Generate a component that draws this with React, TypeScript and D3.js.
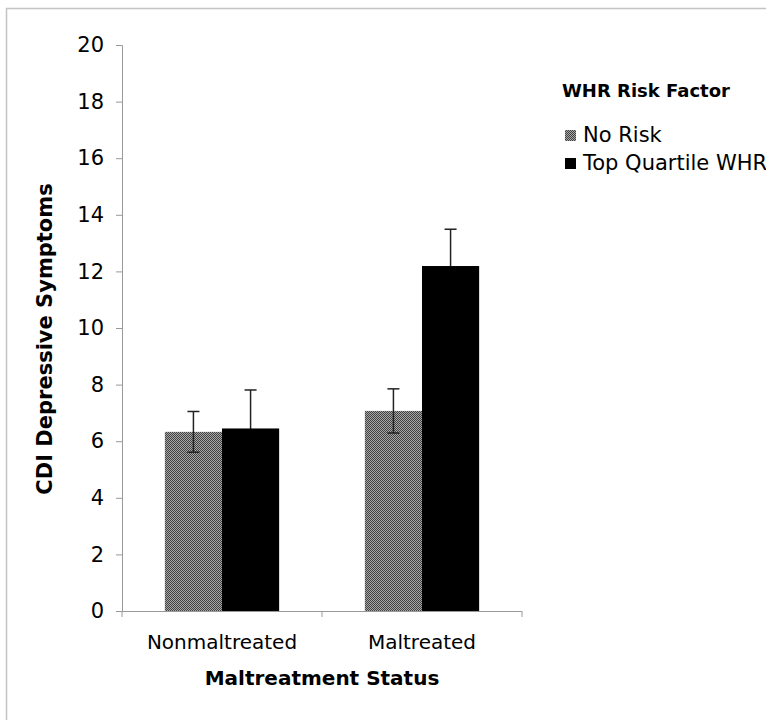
import * as d3 from 'd3';
import { useEffect, useRef } from 'react';

const categories = ['Nonmaltreated', 'Maltreated'];
const seriesNames = ['No Risk', 'Top Quartile WHR'];
const noRiskValues = [6.33, 7.07];
const noRiskErrors = [0.72, 0.78];
const topQuartileValues = [6.45, 12.19];
const topQuartileErrors = [1.36, 1.3];
const yTicks = [0, 2, 4, 6, 8, 10, 12, 14, 16, 18, 20];

function App() {
    const ref = useRef<SVGSVGElement>(null);

    useEffect(() => {
        const svg = d3.select(ref.current);
        svg.selectAll('*').remove();

        const font = 'DejaVu Sans, Verdana, sans-serif';
        const left = 122, right = 522, top = 45, bottom = 611;

        // dither pattern for the "No Risk" bars
        const defs = svg.append('defs');
        const pat = defs.append('pattern')
            .attr('id', 'dither')
            .attr('width', 2).attr('height', 2)
            .attr('patternUnits', 'userSpaceOnUse');
        pat.append('rect').attr('width', 2).attr('height', 2).attr('fill', '#a8a8a8');
        pat.append('rect').attr('width', 1).attr('height', 1).attr('fill', '#404040');
        pat.append('rect').attr('x', 1).attr('y', 1).attr('width', 1).attr('height', 1).attr('fill', '#404040');

        // outer frame
        svg.append('rect')
            .attr('x', 6.5).attr('y', 8.5)
            .attr('width', 800).attr('height', 800)
            .attr('fill', 'white')
            .attr('stroke', '#c4c4c4')
            .attr('stroke-width', 1.5);

        const x0 = d3.scaleBand().domain(categories).range([left, right]).paddingInner(0).paddingOuter(0);
        const x1 = d3.scaleBand().domain(seriesNames).range([0, x0.bandwidth()]).paddingInner(0).paddingOuter(0.75);
        const y = d3.scaleLinear().domain([0, 20]).range([bottom, top]);

        // y axis
        const yAxis = svg.append('g')
            .attr('transform', `translate(${left},0)`)
            .call(d3.axisLeft(y).tickValues(yTicks).tickSize(6).tickPadding(12));
        yAxis.select('.domain').attr('stroke', '#999');
        yAxis.selectAll('.tick line').attr('stroke', '#999');
        yAxis.selectAll('.tick text')
            .attr('font-family', font).attr('font-size', 21).attr('fill', '#000');

        // x axis
        const xAxis = svg.append('g')
            .attr('transform', `translate(0,${bottom})`)
            .call(d3.axisBottom(x0).tickSize(0).tickPadding(24));
        xAxis.select('.domain').attr('stroke', '#999').attr('d', `M${left},0.5H${right}`);
        xAxis.selectAll('.tick text')
            .attr('font-family', font).attr('font-size', 20).attr('fill', '#000');
        const xTickPos = [left, (left + right) / 2, right];
        xAxis.selectAll('.sep')
            .data(xTickPos)
            .join('line')
            .attr('x1', d => d).attr('x2', d => d)
            .attr('y1', 0).attr('y2', 6)
            .attr('stroke', '#999');

        const series = [
            { name: seriesNames[0], values: noRiskValues, errors: noRiskErrors, fill: 'url(#dither)' },
            { name: seriesNames[1], values: topQuartileValues, errors: topQuartileErrors, fill: '#000' },
        ];

        const drawBars = (s: typeof series[number]) => {
            svg.append('g').selectAll('rect')
                .data(categories)
                .join('rect')
                .attr('x', (c) => x0(c)! + x1(s.name)!)
                .attr('y', (c, i) => y(s.values[i]))
                .attr('width', x1.bandwidth())
                .attr('height', (c, i) => bottom - y(s.values[i]))
                .attr('fill', s.fill);
        };

        drawBars(series[0]);

        // error bars (black bars are drawn after, hiding the lower whisker)
        series.forEach(s => {
            const g = svg.append('g').attr('stroke', '#222').attr('stroke-width', 1.5);
            categories.forEach((c, i) => {
                const cx = x0(c)! + x1(s.name)! + x1.bandwidth() / 2;
                const hi = y(s.values[i] + s.errors[i]);
                const lo = y(s.values[i] - s.errors[i]);
                g.append('line').attr('x1', cx).attr('x2', cx).attr('y1', hi).attr('y2', lo);
                g.append('line').attr('x1', cx - 6).attr('x2', cx + 6).attr('y1', hi).attr('y2', hi);
                g.append('line').attr('x1', cx - 6).attr('x2', cx + 6).attr('y1', lo).attr('y2', lo);
            });
        });

        drawBars(series[1]);

        // axis titles
        svg.append('text')
            .attr('x', (left + right) / 2).attr('y', 685)
            .attr('text-anchor', 'middle')
            .attr('font-family', font).attr('font-size', 20).attr('font-weight', 'bold')
            .text('Maltreatment Status');
        svg.append('text')
            .attr('transform', `translate(52,339) rotate(-90)`)
            .attr('text-anchor', 'middle')
            .attr('font-family', font).attr('font-size', 21).attr('font-weight', 'bold')
            .text('CDI Depressive Symptoms');

        // legend
        const legend = svg.append('g');
        legend.append('text')
            .attr('x', 562).attr('y', 97)
            .attr('font-family', font).attr('font-size', 18).attr('font-weight', 'bold')
            .text('WHR Risk Factor');
        series.forEach((s, i) => {
            const ly = 142 + i * 28;
            legend.append('rect')
                .attr('x', 565).attr('y', ly - 12)
                .attr('width', 11).attr('height', 11)
                .attr('fill', s.fill);
            legend.append('text')
                .attr('x', 583).attr('y', ly)
                .attr('font-family', font).attr('font-size', 21)
                .text(s.name);
        });
    }, []);

    return (
        <svg ref={ref} width={766} height={720}
            style={{ position: 'absolute', left: 0, top: 0, background: 'white' }} />
    );
}

export default App;
